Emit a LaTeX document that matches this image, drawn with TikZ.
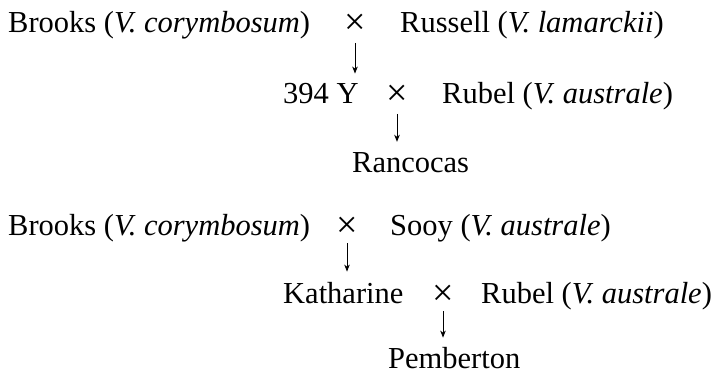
\documentclass[tikz,border=0pt]{standalone}
\usepackage{fontspec}
\setmainfont{Liberation Serif}
\usetikzlibrary{arrows.meta}
\begin{document}
\begin{tikzpicture}[x=1pt,y=-1pt,
  txt/.style={inner sep=0pt,anchor=base west,font=\fontsize{30.5}{33}\selectfont},
  cross/.style={inner sep=0pt,anchor=base,font=\fontsize{38}{40}\selectfont},
  arr/.style={line width=1pt,-{Stealth[length=7pt,width=5.5pt,inset=2pt]}}]
\useasboundingbox (0,0) rectangle (722,374);
% first pedigree
\node[txt] (b1) at (8,33) {Brooks (\textit{V. corymbosum})};
\node[cross] (x1) at (355,35) {×};
\node[txt] (ru) at (400,33) {Russell (\textit{V. lamarckii})};
\node[txt] (y394) at (283,104) {394 Y};
\node[cross] (x2) at (397,106) {×};
\node[txt] (rb1) at (442,104) {Rubel (\textit{V. australe})};
\node[txt] (ra) at (352,172) {Rancocas};
\draw[arr] ([yshift=-8pt]x1.base) -- ([yshift=10pt]x1.base |- y394.north);
\draw[arr] ([yshift=-8pt]x2.base) -- ([yshift=10pt]x2.base |- ra.north);
% second pedigree
\node[txt] (b2) at (8,235) {Brooks (\textit{V. corymbosum})};
\node[cross] (x3) at (347,237) {×};
\node[txt] (so) at (390,235) {Sooy (\textit{V. australe})};
\node[txt] (ka) at (283,303) {Katharine};
\node[cross] (x4) at (443,305) {×};
\node[txt] (rb2) at (481,303) {Rubel (\textit{V. australe})};
\node[txt] (pe) at (388,368) {Pemberton};
\draw[arr] ([yshift=-6pt]x3.base) -- ([yshift=10pt]x3.base |- ka.north);
\draw[arr] ([yshift=-6pt]x4.base) -- ([yshift=9pt]x4.base |- pe.north);
\end{tikzpicture}
\end{document}
